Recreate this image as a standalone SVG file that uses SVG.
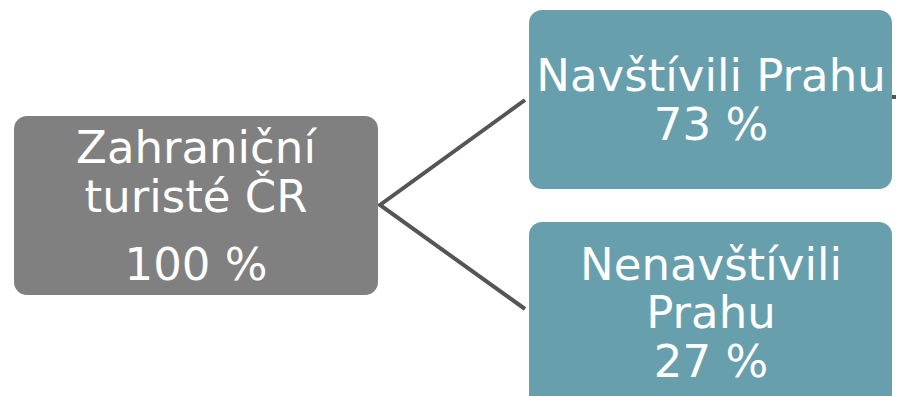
<svg xmlns="http://www.w3.org/2000/svg" width="897" height="396" viewBox="0 0 897 396">
<style>
.t{font-family:"DejaVu Sans",Verdana,sans-serif;font-size:45px;fill:#fff;text-anchor:middle}
.c{stroke:#555;stroke-width:4;fill:none}
</style>
<rect width="897" height="396" fill="#fff"/>
<g id="connectors">
<path class="c" d="M525,100 L380,205 L525,309"/>
<path class="c" d="M892,97 L896,97"/>
</g>
<g id="root">
<rect x="14" y="116" width="364" height="179" rx="13" fill="#808080"/>
<text class="t" x="196" y="163">Zahraniční</text>
<text class="t" x="196" y="212">turisté ČR</text>
<text class="t" x="196" y="280">100 %</text>
</g>
<g id="visited">
<rect x="529" y="10" width="363" height="179" rx="13" fill="#689fad"/>
<text class="t" x="711" y="91">Navštívili Prahu</text>
<text class="t" x="711" y="140">73 %</text>
</g>
<g id="notvisited">
<rect x="529" y="222" width="363" height="190" rx="13" fill="#689fad"/>
<text class="t" x="711" y="280">Nenavštívili</text>
<text class="t" x="711" y="328">Prahu</text>
<text class="t" x="711" y="377">27 %</text>
</g>
</svg>
